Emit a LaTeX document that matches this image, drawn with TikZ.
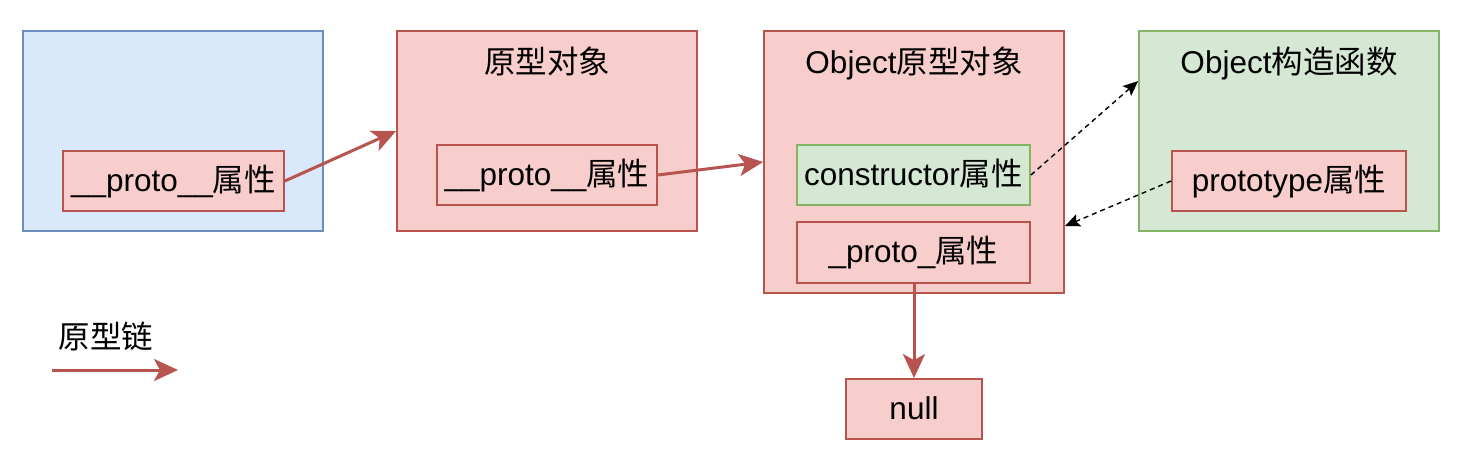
\documentclass[tikz,border=0pt]{standalone}
\usepackage{fontspec}
\setmainfont{Liberation Sans}
\newfontfamily\cjkfont{Noto Sans CJK SC}
\newcommand\zh[1]{{\cjkfont #1}}
\usetikzlibrary{arrows.meta}
\definecolor{bluefill}{HTML}{DAE8FC}
\definecolor{blueline}{HTML}{6C8EBF}
\definecolor{redfill}{HTML}{F8CECC}
\definecolor{redline}{HTML}{B85450}
\definecolor{greenfill}{HTML}{D5E8D4}
\definecolor{greenline}{HTML}{82B366}
\tikzset{
  bluebox/.style={draw=blueline,fill=bluefill,line width=1.8pt,minimum width=300pt,minimum height=200pt,inner sep=0pt},
  redbig/.style={draw=redline,fill=redfill,line width=1.8pt,minimum width=300pt,inner sep=0pt},
  greenbig/.style={draw=greenline,fill=greenfill,line width=1.8pt,minimum width=300pt,minimum height=200pt,inner sep=0pt},
  txt/.style={font=\fontsize{31.5}{36}\selectfont,text height=25pt,text depth=5pt},
  redsmall/.style={txt,draw=redline,fill=redfill,line width=1.8pt,minimum height=60pt,inner sep=0pt},
  greensmall/.style={txt,draw=greenline,fill=greenfill,line width=1.8pt,minimum height=60pt,inner sep=0pt},
  title/.style={font=\fontsize{31.5}{36}\selectfont,inner sep=0pt,anchor=base},
  chain/.style={draw=redline,line width=3pt,-{Stealth[length=24pt,width=22pt,inset=6pt]}},
  link/.style={draw=black,line width=1.4pt,dashed,dash pattern=on 5pt off 4pt,-{Stealth[length=15pt,width=13pt,inset=3pt]}}
}
\begin{document}
\begin{tikzpicture}[x=1pt,y=-1pt]
\useasboundingbox (0,0) rectangle (1462,466);
\node[bluebox] (o1) at (173,131) {};
\node[redsmall,minimum width=221pt] (p1) at (173.5,181) {\_\_proto\_\_\zh{属性}};
\node[redbig,minimum height=200pt] (o2) at (547,131) {};
\node[title] (t2) at (547,73) {\zh{原型对象}};
\node[redsmall,minimum width=220pt] (p2) at (547,175) {\_\_proto\_\_\zh{属性}};
\node[redbig,minimum height=262pt] (o3) at (914,162) {};
\node[title] (t3) at (914,73) {Object\zh{原型对象}};
\node[greensmall,minimum width=233pt] (ctor) at (913.5,175) {constructor\zh{属性}};
\node[redsmall,minimum width=233pt,minimum height=61pt] (pr3) at (913.5,252.5) {\_proto\_\zh{属性}};
\node[greenbig] (o4) at (1289,131) {};
\node[title] (t4) at (1289,73) {Object\zh{构造函数}};
\node[redsmall,minimum width=234pt] (ptype) at (1289,181) {prototype\zh{属性}};
\node[redsmall,minimum width=136pt] (null) at (914,409) {null};
\node[title] (leg) at (106,348) {\zh{原型链}};
\coordinate (l1) at (52,370);
\coordinate (l2) at (178,370);
\draw[chain] (p1.east) -- (o2.west);
\draw[chain] (p2.east) -- (o3.west);
\draw[chain] (pr3.south -| null.north) -- (null.north);
\draw[chain] (l1) -- (l2);
\draw[link] (ctor.east) -- ([yshift=-51pt]o4.north west);
\draw[link] (ptype.west) -- ([yshift=-196pt]o3.north east);
\end{tikzpicture}
\end{document}
